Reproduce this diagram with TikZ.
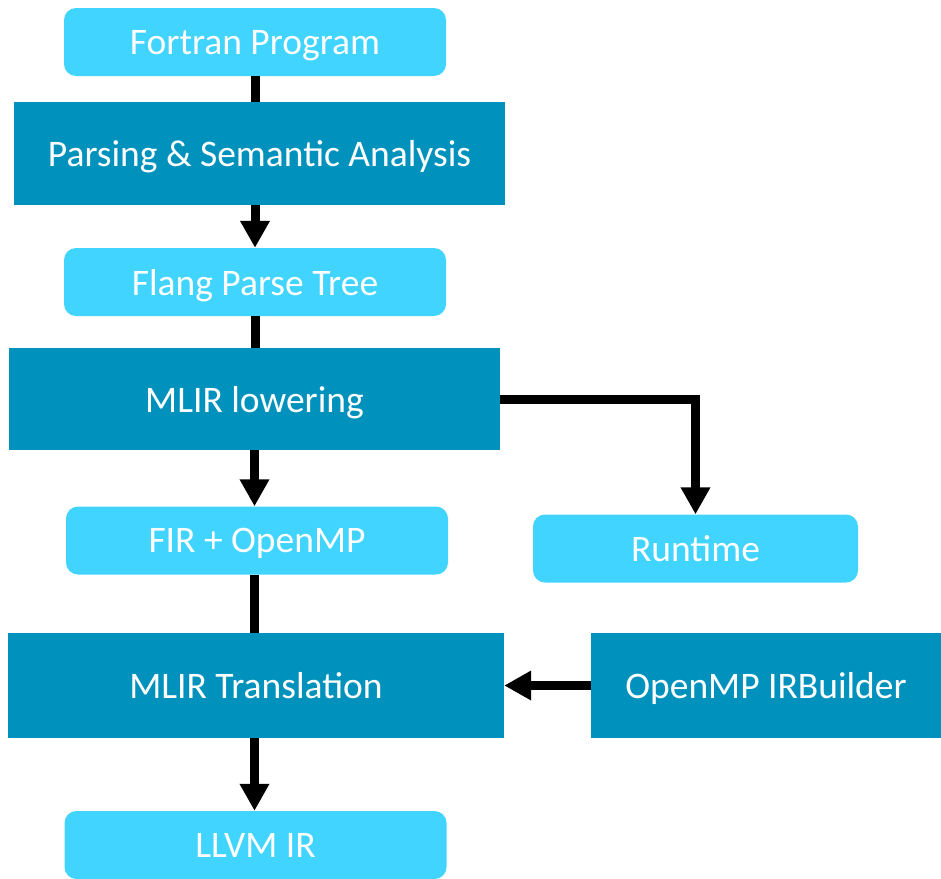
\documentclass[tikz,border=0pt]{standalone}
\usepackage{fontspec}
\setmainfont{Carlito}
\usetikzlibrary{arrows.meta,positioning}
\definecolor{lightcyan}{HTML}{40D4FF}
\definecolor{deepcyan}{HTML}{0092BC}
\tikzstyle{lightbox}=[rectangle,rounded corners=12pt,fill=lightcyan,text=white,inner sep=0pt,text depth=0pt,font=\fontsize{37.5}{40}\selectfont]
\tikzstyle{darkbox}=[rectangle,fill=deepcyan,text=white,inner sep=0pt,text depth=0pt,font=\fontsize{37.5}{40}\selectfont]
\tikzstyle{flow} = [draw,line width=9pt,-{Triangle[width=28pt,length=27pt]}]
\tikzstyle{plain} = [draw,line width=9pt]
\begin{document}
\begin{tikzpicture}[x=1pt,y=-1pt]

  \useasboundingbox (0,0) rectangle (941,878);

  % rounded stages
  \foreach \name/\x/\y/\w/\label in {fortran/255/42/382/Fortran Program, flang/255/282/382/Flang Parse Tree, fir/257/540.5/382/FIR + OpenMP, runtime/695.5/548.5/325/Runtime, llvm/255.5/845/382/LLVM IR}
        \node[lightbox, minimum width=\w, minimum height=68] (\name) at (\x, \y) {\label};

  % passes
  \foreach \name/\x/\y/\w/\h/\label in {parsing/259.5/153.5/491/103/Parsing \& Semantic Analysis, lowering/254.5/399/491/102/MLIR lowering, translation/256/685.5/496/105/MLIR Translation, irbuilder/766/685.5/350/105/OpenMP IRBuilder}
        \node[darkbox, minimum width=\w, minimum height=\h] (\name) at (\x, \y) {\label};

  \draw[plain] (fortran.south) -- (fortran.south |- parsing.north);
  \draw[flow] (parsing.south -| flang.north) -- (flang.north);
  \draw[plain] (flang.south) -- (flang.south |- lowering.north);
  \draw[flow] (lowering.south) -- (lowering.south |- fir.north);
  \draw[flow] (lowering.east) -| (runtime.north);
  \draw[plain] (fir.south -| lowering.south) -- (lowering.south |- translation.north);
  \draw[flow] (irbuilder.west) -- (translation.east);
  \draw[flow] (translation.south -| lowering.south) -- (lowering.south |- llvm.north);

\end{tikzpicture}
\end{document}
